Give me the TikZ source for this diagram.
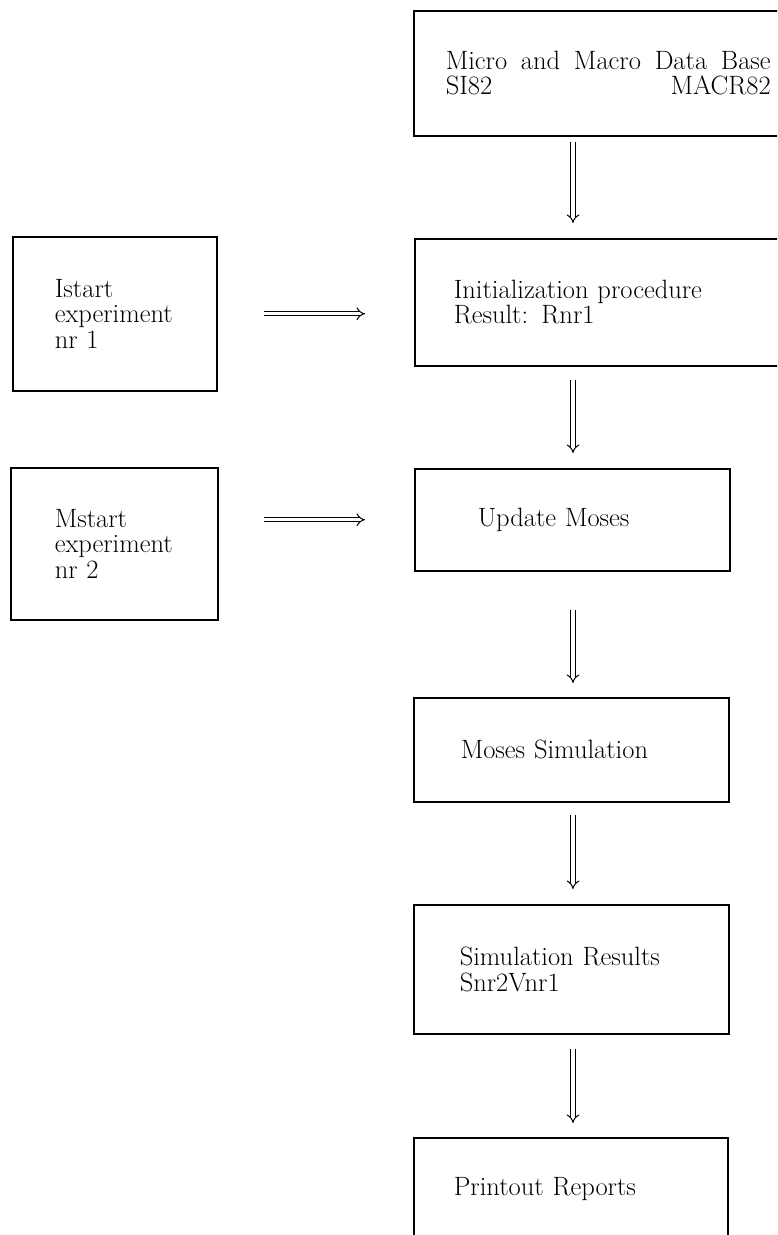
\documentclass[tikz,border=0pt]{standalone}
\usetikzlibrary{arrows.meta}
\begin{document}
\begin{tikzpicture}[x=1pt,y=-1pt,
  box/.style={draw, line width=1.5pt, anchor=north west, align=left,
    inner ysep=0pt, font=\fontsize{26.5}{25.5}\selectfont},
  flow/.style={double, double distance=3.4pt, line width=1pt, -{Implies}}]
\useasboundingbox (0,0) rectangle (777,1235);
\clip (0,0) rectangle (777,1235);

% main column of the procedure
\node[box, inner xsep=32pt, text width=325pt, minimum height=125pt,
  font=\fontsize{26.5}{25}\selectfont] (db) at (413,10)
  {\makebox[325pt]{Micro\hfill and\hfill Macro\hfill Data\hfill Base}\\
   \makebox[325pt]{SI82\hfill MACR82}};
\node[box, inner xsep=39pt, text width=340pt, minimum height=127pt] (init) at (414,238)
  {Initialization procedure\\Result: Rnr1};
\node[box, inner xsep=63pt, text width=189pt, minimum height=102pt] (update) at (414,468)
  {Update Moses};
\node[box, inner xsep=47pt, text width=221pt, minimum height=104pt] (moses) at (413,697)
  {Moses Simulation};
\node[box, inner xsep=46pt, text width=223pt, minimum height=129pt] (simres) at (413,904)
  {Simulation Results\\Snr2Vnr1};
\node[box, inner xsep=40pt, text width=234pt, minimum height=103pt] (print) at (413,1137)
  {Printout Reports};

% experiment inputs on the left
\node[box, inner xsep=42pt, text width=120pt, minimum height=154pt] (istart) at (12,236)
  {Istart\\experiment\\nr 1};
\node[box, inner xsep=44pt, text width=119pt, minimum height=152pt] (mstart) at (10,467)
  {Mstart\\experiment\\nr 2};

% flow arrows
\coordinate (col) at (573,0);
\draw[flow, shorten <=5pt, shorten >=15pt] (db.south -| col) -- (init.north -| col);
\draw[flow, shorten <=13pt, shorten >=15pt] (init.south -| col) -- (update.north -| col);
\draw[flow, shorten <=38pt, shorten >=14pt] (update.south -| col) -- (moses.north -| col);
\draw[flow, shorten <=12pt, shorten >=15pt] (moses.south -| col) -- (simres.north -| col);
\draw[flow, shorten <=14pt, shorten >=14pt] (simres.south -| col) -- (print.north -| col);

\draw[flow, shorten <=46pt, shorten >=49pt] (istart.east) -- (istart.east -| init.west);
\draw[flow, shorten <=45pt, shorten >=49pt] (update.west -| mstart.east) -- (update.west);
\end{tikzpicture}
\end{document}
